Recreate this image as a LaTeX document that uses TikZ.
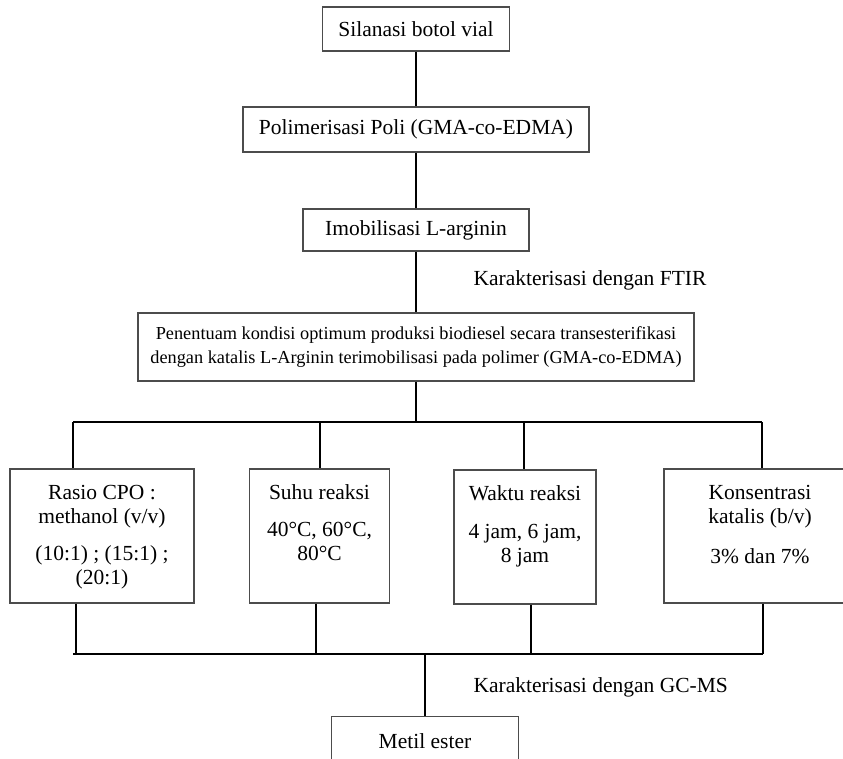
\documentclass[tikz,border=0pt]{standalone}
\usepackage{fontspec}
\setmainfont{Liberation Serif}
\begin{document}
\begin{tikzpicture}[x=1pt,y=-1pt,
	box/.style={draw=black!70,line width=1.3pt,inner sep=0pt,font=\fontsize{21.5}{25}\selectfont},
	choice/.style={box,minimum height=134},
	isi/.style={anchor=north,yshift=-16.5pt,align=center,inner sep=0pt,font=\fontsize{21.5}{24.5}\selectfont},
	line/.style={line width=2pt},
	note/.style={anchor=west,font=\fontsize{21.5}{25}\selectfont}]
	\useasboundingbox (0,0) rectangle (843,758);
	\clip (0,0) rectangle (843,758);
	\node[box,minimum width=187,minimum height=44] (silanasi) at (416,29) {Silanasi botol vial};
	\node[box,minimum width=346,minimum height=45] (polimer) at (416,129.5) {Polimerisasi Poli (GMA-co-EDMA)};
	\node[box,minimum width=226,minimum height=42] (imobil) at (416,230) {Imobilisasi L-arginin};
	\node[box,minimum width=556,minimum height=68,align=center,font=\fontsize{18.3}{24}\selectfont] (optimum) at (416,347) {Penentuam kondisi optimum produksi biodiesel secara transesterifikasi\\dengan katalis L-Arginin terimobilisasi pada polimer (GMA-co-EDMA)};
	\node[note] (ftir) at (470,280) {Karakterisasi dengan FTIR};
	\node[choice,minimum width=184,label={[isi]north:{Rasio CPO :\\methanol (v/v)\\[12pt](10:1) ; (15:1) ;\\(20:1)}}] (rasio) at (102,536) {};
	\node[choice,minimum width=140,label={[isi]north:{Suhu reaksi\\[12pt]40°C, 60°C,\\80°C}}] (suhu) at (319.5,536) {};
	\node[choice,minimum width=142,label={[isi]north:{Waktu reaksi\\[13pt]4 jam, 6 jam,\\8 jam}}] (waktu) at (525,537) {};
	\node[choice,minimum width=192,label={[isi]north:{Konsentrasi\\katalis (b/v)\\[15pt]3\% dan 7\%}}] (konsen) at (760,536) {};
	\node[box,minimum width=187,minimum height=50,text height=13pt,anchor=north] (metil) at (425,716) {Metil ester};
	\node[note] (gcms) at (470,687) {Karakterisasi dengan GC-MS};
	\coordinate (atasA) at (73,422);
	\coordinate (atasB) at (320,422);
	\coordinate (atasC) at (524,422);
	\coordinate (atasD) at (762,422);
	\coordinate (bawahA) at (76,654);
	\coordinate (bawahB) at (316,654);
	\coordinate (bawahC) at (531,654);
	\coordinate (bawahD) at (763,654);
	\draw[line] (silanasi) -- (polimer);
	\draw[line] (polimer) -- (imobil);
	\draw[line] (imobil) -- (optimum);
	\draw[line] (optimum) -- (optimum |- atasA);
	\draw[line] (atasA) -- (atasD);
	\draw[line] (atasA) -- (atasA |- rasio.north);
	\draw[line] (atasB) -- (atasB |- suhu.north);
	\draw[line] (atasC) -- (atasC |- waktu.north);
	\draw[line] (atasD) -- (atasD |- konsen.north);
	\draw[line] (rasio.south -| bawahA) -- (bawahA);
	\draw[line] (suhu.south -| bawahB) -- (bawahB);
	\draw[line] (waktu.south -| bawahC) -- (bawahC);
	\draw[line] (konsen.south -| bawahD) -- (bawahD);
	\draw[line] (73,654) -- (bawahD);
	\draw[line] (metil |- bawahA) -- (metil);
\end{tikzpicture}
\end{document}
